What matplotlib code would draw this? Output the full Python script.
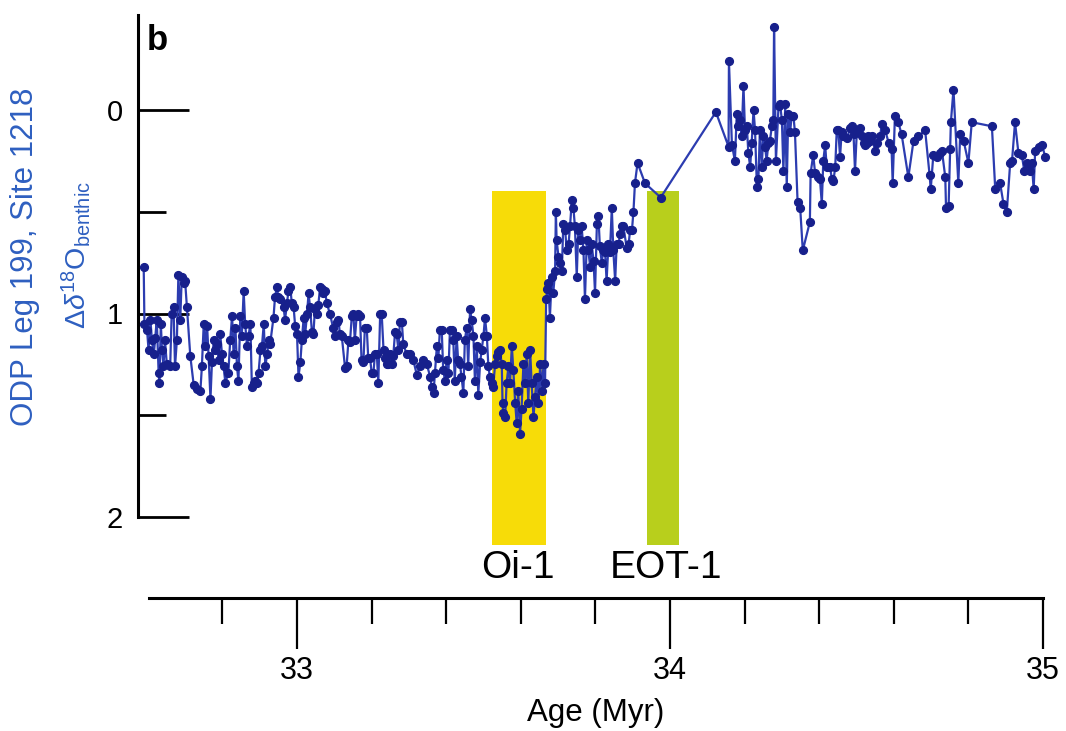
import numpy as np
import matplotlib
matplotlib.use("Agg")
import matplotlib.pyplot as plt
from matplotlib.ticker import FixedLocator

plt.rcParams['font.family'] = ['Liberation Sans', 'DejaVu Sans']
plt.rcParams['mathtext.fontset'] = 'custom'
plt.rcParams['mathtext.rm'] = 'Liberation Sans'
plt.rcParams['mathtext.it'] = 'Liberation Sans:italic'

# ---- data: age (Myr) and delta d18O benthic ----
age_1 = [32.589, 32.591, 32.598, 32.602, 32.607, 32.611, 32.616, 32.620, 32.624, 32.629,
         32.631, 32.635, 32.638, 32.642, 32.646, 32.651, 32.660, 32.664, 32.669, 32.673,
         32.678, 32.682, 32.687, 32.691, 32.696, 32.700, 32.705, 32.714, 32.723, 32.732,
         32.741, 32.745, 32.750, 32.754, 32.759, 32.763, 32.768, 32.772, 32.777, 32.781,
         32.785, 32.790, 32.794, 32.799, 32.803, 32.808, 32.816, 32.821, 32.826, 32.830,
         32.835, 32.839, 32.843, 32.848, 32.852, 32.857, 32.861, 32.866, 32.870, 32.875,
         32.879, 32.884, 32.888, 32.893, 32.897, 32.902, 32.906, 32.911, 32.915, 32.920,
         32.924, 32.928, 32.937, 32.941, 32.946, 32.950, 32.955, 32.964, 32.968, 32.973,
         32.977, 32.982, 32.986, 32.991, 32.995, 33.000, 33.004, 33.009, 33.013, 33.018,
         33.022, 33.027, 33.031]
d18o_1 = [0.77, 1.05, 1.08, 1.18, 1.03, 1.13, 1.20, 1.12, 1.03, 1.29,
          1.34, 1.05, 1.18, 1.26, 1.13, 1.25, 1.26, 1.00, 0.97, 1.26,
          1.13, 0.81, 1.03, 0.82, 0.85, 0.84, 0.97, 1.21, 1.35, 1.37,
          1.38, 1.26, 1.05, 1.16, 1.06, 1.21, 1.42, 1.24, 1.13, 1.18,
          1.15, 1.23, 1.10, 1.20, 1.26, 1.34, 1.29, 1.13, 1.01, 1.20,
          1.07, 1.26, 1.33, 1.01, 1.11, 0.89, 1.05, 1.16, 1.11, 1.05,
          1.36, 1.34, 1.33, 1.34, 1.29, 1.18, 1.16, 1.05, 1.26, 1.20,
          1.13, 1.15, 1.02, 0.92, 0.87, 0.92, 0.93, 0.97, 1.03, 0.95,
          0.89, 0.87, 0.95, 0.97, 1.06, 1.10, 1.31, 1.24, 1.13, 1.02,
          1.10, 1.00, 0.90]

age_2 = [33.035, 33.040, 33.044, 33.048, 33.053, 33.057, 33.062, 33.066, 33.071, 33.075,
         33.080, 33.088, 33.097, 33.102, 33.106, 33.111, 33.115, 33.120, 33.129, 33.133,
         33.138, 33.142, 33.147, 33.151, 33.155, 33.160, 33.164, 33.169, 33.173, 33.178,
         33.182, 33.187, 33.191, 33.196, 33.200, 33.205, 33.209, 33.214, 33.218, 33.223,
         33.227, 33.232, 33.236, 33.240, 33.245, 33.249, 33.254, 33.258, 33.263, 33.267,
         33.272, 33.276, 33.281, 33.285, 33.294, 33.303, 33.312, 33.321, 33.330, 33.339,
         33.348, 33.357, 33.361, 33.366, 33.370, 33.375, 33.379, 33.383, 33.388, 33.392,
         33.397, 33.401, 33.406, 33.410, 33.415, 33.419, 33.423, 33.428, 33.432, 33.437,
         33.441, 33.446, 33.450, 33.455, 33.459, 33.464, 33.468, 33.473, 33.477, 33.482,
         33.486, 33.491]
d18o_2 = [0.97, 1.09, 1.10, 0.98, 1.00, 0.96, 0.87, 0.88, 0.90, 0.89,
          0.95, 1.00, 1.07, 1.11, 1.04, 1.03, 1.10, 1.11, 1.27, 1.26,
          1.13, 1.14, 1.01, 1.00, 1.13, 1.01, 1.00, 1.01, 1.23, 1.24,
          1.07, 1.07, 1.22, 1.22, 1.29, 1.29, 1.20, 1.20, 1.34, 1.00,
          1.00, 1.18, 1.22, 1.25, 1.25, 1.20, 1.25, 1.21, 1.09, 1.10,
          1.18, 1.04, 1.04, 1.15, 1.20, 1.20, 1.23, 1.30, 1.26, 1.23,
          1.25, 1.31, 1.36, 1.39, 1.29, 1.16, 1.22, 1.08, 1.08, 1.28,
          1.33, 1.23, 1.29, 1.08, 1.08, 1.13, 1.33, 1.11, 1.23, 1.25,
          1.31, 1.39, 1.13, 1.07, 1.26, 0.98, 1.03, 1.11, 1.33, 1.16,
          1.40, 1.24]

age_3 = [33.495, 33.500, 33.504, 33.509, 33.513, 33.517, 33.522, 33.526, 33.531, 33.535,
         33.540, 33.544, 33.549, 33.551, 33.553, 33.558, 33.562, 33.567, 33.571, 33.576,
         33.580, 33.585, 33.589, 33.593, 33.598, 33.602, 33.607, 33.611, 33.616, 33.620,
         33.625, 33.629, 33.634, 33.638, 33.643, 33.647, 33.652, 33.656, 33.661, 33.665,
         33.668, 33.671, 33.674, 33.678, 33.683, 33.687, 33.692, 33.694, 33.696, 33.701,
         33.705, 33.710, 33.714, 33.719, 33.723, 33.728, 33.732, 33.737, 33.741, 33.745,
         33.750, 33.754, 33.759, 33.763, 33.768, 33.772, 33.777, 33.781, 33.786, 33.790,
         33.795, 33.799, 33.804, 33.808, 33.812, 33.817, 33.821, 33.826, 33.830, 33.835,
         33.839, 33.844, 33.848, 33.853, 33.857, 33.862, 33.866, 33.871, 33.875, 33.884,
         33.889, 33.893, 33.898, 33.902, 33.906, 33.913]
d18o_3 = [1.18, 1.11, 1.02, 1.11, 1.26, 1.31, 1.34, 1.36, 1.25, 1.21,
          1.19, 1.18, 1.25, 1.44, 1.49, 1.51, 1.34, 1.26, 1.34, 1.16,
          1.28, 1.44, 1.54, 1.38, 1.59, 1.47, 1.25, 1.34, 1.20, 1.44,
          1.18, 1.34, 1.51, 1.41, 1.31, 1.44, 1.25, 1.38, 1.25, 1.34,
          0.93, 0.88, 0.85, 1.02, 0.82, 0.90, 0.79, 0.50, 0.64, 0.72,
          0.75, 0.79, 0.56, 0.59, 0.69, 0.66, 0.57, 0.44, 0.48, 0.57,
          0.82, 0.59, 0.64, 0.57, 0.69, 0.93, 0.64, 0.69, 0.77, 0.66,
          0.74, 0.90, 0.56, 0.52, 0.67, 0.75, 0.69, 0.70, 0.84, 0.66,
          0.70, 0.48, 0.69, 0.84, 0.66, 0.66, 0.61, 0.57, 0.57, 0.68,
          0.66, 0.59, 0.59, 0.50, 0.36, 0.26]

age_4 = [33.933, 33.975, 34.123, 34.157, 34.158, 34.166, 34.174, 34.179, 34.183, 34.188,
         34.192, 34.197, 34.201, 34.206, 34.210, 34.215, 34.219, 34.224, 34.228, 34.233,
         34.237, 34.241, 34.246, 34.250, 34.255, 34.259, 34.264, 34.268, 34.273, 34.277,
         34.279, 34.284, 34.291, 34.295, 34.300, 34.304, 34.309, 34.313, 34.317, 34.322,
         34.326, 34.331, 34.335, 34.342]
d18o_4 = [0.36, 0.43, 0.01, 0.18, -0.24, 0.17, 0.25, 0.02, 0.08, 0.05,
          0.13, -0.12, 0.10, 0.08, 0.21, 0.28, 0.16, 0.00, 0.10, 0.38,
          0.34, 0.10, 0.28, 0.13, 0.18, 0.25, 0.16, 0.15, 0.08, 0.05,
          -0.41, 0.25, -0.02, -0.03, 0.05, 0.30, -0.03, 0.38, 0.02, 0.11,
          0.03, 0.03, 0.11, 0.45]

age_5 = [34.349, 34.356, 34.375, 34.377, 34.384, 34.389, 34.398, 34.402, 34.407, 34.411,
         34.416, 34.420, 34.429, 34.434, 34.438, 34.443, 34.447, 34.451, 34.456, 34.460,
         34.465, 34.474, 34.483, 34.487, 34.492, 34.496, 34.501, 34.510, 34.514, 34.519,
         34.523, 34.527, 34.532, 34.536, 34.541, 34.550, 34.554, 34.563, 34.568, 34.577,
         34.586, 34.594, 34.597, 34.603, 34.612, 34.621, 34.639, 34.653, 34.666]
d18o_5 = [0.48, 0.69, 0.55, 0.31, 0.22, 0.31, 0.33, 0.34, 0.46, 0.25,
          0.17, 0.28, 0.28, 0.34, 0.35, 0.28, 0.10, 0.10, 0.23, 0.11,
          0.13, 0.14, 0.09, 0.08, 0.12, 0.30, 0.10, 0.09, 0.13, 0.16,
          0.17, 0.16, 0.13, 0.15, 0.13, 0.20, 0.16, 0.13, 0.07, 0.10,
          0.16, 0.19, 0.36, 0.03, 0.06, 0.12, 0.33, 0.15, 0.13]

age_6 = [34.684, 34.696, 34.699, 34.706, 34.715, 34.724, 34.729, 34.738, 34.740, 34.747,
         34.751, 34.753, 34.760, 34.773, 34.778, 34.787, 34.800, 34.809, 34.863, 34.872,
         34.885, 34.894, 34.903, 34.912, 34.917, 34.925, 34.934, 34.943, 34.950, 34.957,
         34.966, 34.970, 34.975, 34.979, 34.988, 34.997, 35.006]
d18o_6 = [0.10, 0.32, 0.39, 0.22, 0.23, 0.21, 0.20, 0.33, 0.48, 0.47,
          0.19, 0.06, -0.10, 0.36, 0.12, 0.15, 0.26, 0.06, 0.08, 0.39,
          0.36, 0.46, 0.50, 0.26, 0.25, 0.06, 0.21, 0.22, 0.30, 0.26,
          0.30, 0.26, 0.39, 0.20, 0.18, 0.17, 0.23]

age = age_1 + age_2 + age_3 + age_4 + age_5 + age_6
d18o = d18o_1 + d18o_2 + d18o_3 + d18o_4 + d18o_5 + d18o_6

# event bands (age ranges) and labels
band_names = ["Oi-1", "EOT-1"]
band_start = [33.522, 33.938]
band_end = [33.668, 34.024]
band_colors = ["#f7dc08", "#b8cf1c"]
band_top, band_bottom = 0.40, 2.14
label_age = [33.593, 33.988]

y_major = [0, 1, 2]
y_minor = [0.5, 1.5]
x_major = [33, 34, 35]
x_minor = [32.8, 33.2, 33.4, 33.6, 33.8, 34.2, 34.4, 34.6, 34.8]

# ---- figure ----
W, H = 1066, 731
fig = plt.figure(figsize=(W / 100, H / 100), dpi=100)
L, R, T, B = 138, 1050, 15, 598
ax = fig.add_axes([L / W, 1 - B / H, (R - L) / W, (B - T) / H])

px_per_myr = 373.0
x0 = 33 - (297 - L) / px_per_myr
x1 = 33 + (R - 297) / px_per_myr
ax.set_xlim(x0, x1)
px_per_unit = 203.5
ytop = 0 - (110 - T) / px_per_unit
ybot = 0 + (B - 110) / px_per_unit
ax.set_ylim(ybot, ytop)

for s, e, c in zip(band_start, band_end, band_colors):
    ax.fill_between([s, e], band_top, band_bottom, color=c, lw=0, zorder=1)

ax.plot(age, d18o, color="#2c3cb0", lw=1.6, marker="o", ms=5.6,
        mfc="#17208c", mec="#17208c", zorder=3, clip_on=False)

for name, xa in zip(band_names, label_age):
    ax.text(xa, 2.25, name, ha="center", va="center", fontsize=28, color="black")

ax.spines['top'].set_visible(False)
ax.spines['right'].set_visible(False)
ax.spines['left'].set_linewidth(2.2)
ax.spines['bottom'].set_linewidth(2.2)
ax.spines['left'].set_bounds(2, ytop)
ax.spines['bottom'].set_bounds(32.603, 35.0)

ax.yaxis.set_major_locator(FixedLocator(y_major))
ax.yaxis.set_minor_locator(FixedLocator(y_minor))
ax.set_yticklabels([str(v) for v in y_major])
ax.tick_params(axis='y', which='major', direction='in', length=37, width=2.0,
               labelsize=21, pad=11)
ax.tick_params(axis='y', which='minor', direction='in', length=20, width=2.0)

ax.xaxis.set_major_locator(FixedLocator(x_major))
ax.xaxis.set_minor_locator(FixedLocator(x_minor))
ax.set_xticklabels([str(v) for v in x_major])
ax.tick_params(axis='x', which='major', direction='out', length=37, width=1.6,
               labelsize=22, pad=5)
ax.tick_params(axis='x', which='minor', direction='out', length=19, width=1.6)

fig.text(596 / W, 1 - 713 / H, "Age (Myr)", ha="center", va="center", fontsize=22.5)
fig.text(157 / W, 1 - 41 / H, "b", ha="center", va="center", fontsize=25,
         fontweight="bold")
fig.text(25 / W, 1 - 257 / H, "ODP Leg 199, Site 1218", rotation=90,
         ha="center", va="center", fontsize=22.5, color="#2e5fc0")
fig.text(76 / W, 1 - 255 / H, r"$\Delta\delta^{18}\mathrm{O}_{\mathrm{benthic}}$",
         rotation=90, ha="center", va="center", fontsize=20.5, color="#2e5fc0")

fig.savefig("out.png", dpi=100, facecolor="white")
